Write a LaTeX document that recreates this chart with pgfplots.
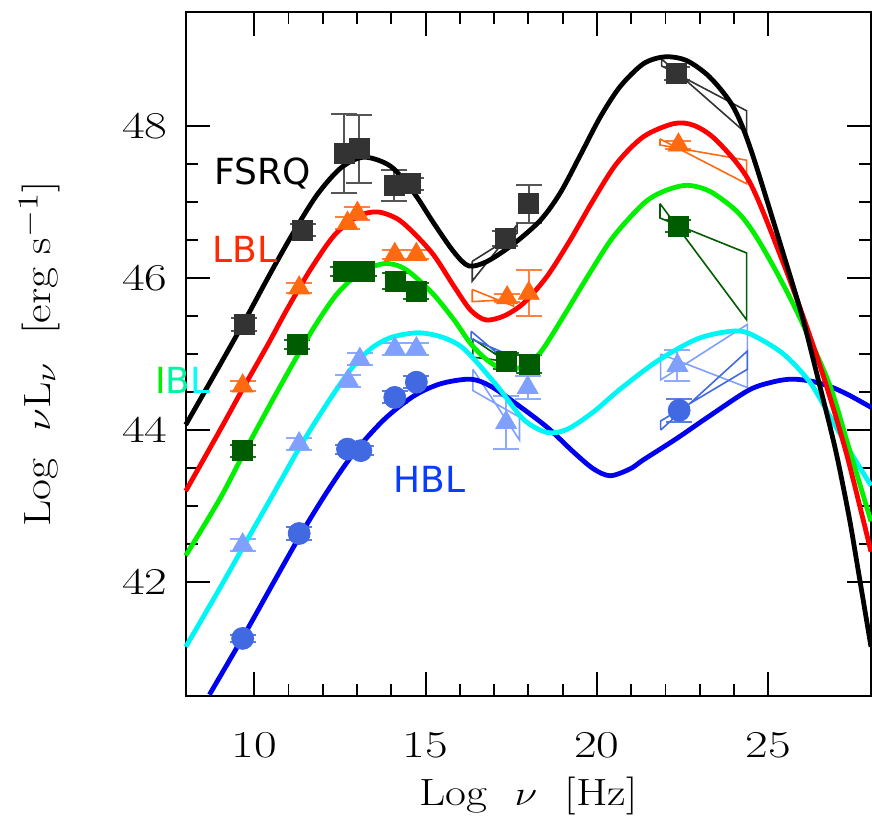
\documentclass[border=0pt]{standalone}
\usepackage{graphicx}
\usepackage{pgfplots}
\pgfplotsset{compat=1.18}
\usepackage{fontspec}
\newfontfamily\dejavu{DejaVu Sans}
\definecolor{cblack}{HTML}{000000}
\definecolor{cred}{HTML}{FF0000}
\definecolor{cgreen}{HTML}{00F000}
\definecolor{ccyan}{HTML}{00F5F5}
\definecolor{cblue}{HTML}{0000F0}
\definecolor{pblack}{HTML}{333333}
\definecolor{eblack}{HTML}{555555}
\definecolor{porange}{HTML}{FF6A10}
\definecolor{eorange}{HTML}{FF8040}
\definecolor{pgreen}{HTML}{005C00}
\definecolor{egreen}{HTML}{1E6E1E}
\definecolor{plblue}{HTML}{7FA0FF}
\definecolor{elblue}{HTML}{8FAAFF}
\definecolor{proyal}{HTML}{4169E1}
\definecolor{eroyal}{HTML}{5A7FE6}
\definecolor{tlbl}{HTML}{FF2A00}
\definecolor{thbl}{HTML}{0A3CFF}
\definecolor{tibl1}{HTML}{00F000}
\definecolor{tibl2}{HTML}{00F5A0}
\definecolor{tibl3}{HTML}{00FFFF}
\pgfplotsset{
  errs/.style={error bars/.cd, y dir=both, y explicit,
    error bar style={line width=1pt, color=#1},
    error mark options={line width=1pt, mark size=6.5pt, color=#1, rotate=90}},
}
\begin{document}
\begin{tikzpicture}
\begin{axis}[
  scale only axis, width=343pt, height=342.5pt,
  xmin=8, xmax=28, ymin=40.5, ymax=49.5,
  clip=false,
  axis line style={line width=1.2pt},
  xtick={10,15,20,25}, ytick={42,44,46,48},
  minor x tick num=4, minor y tick num=3,
  tick align=inside,
  major tick length=12pt, minor tick length=6pt,
  every tick/.style={black, line width=0.9pt},
  /pgf/number format/assume math mode=true,
  tick label style={font=\fontsize{19}{19}\selectfont, inner sep=0pt},
  xticklabel={\scalebox{1.3}[1]{\pgfmathprintnumber{\tick}}},
  yticklabel={\scalebox{1.3}[1]{\pgfmathprintnumber{\tick}}},
  xticklabel style={yshift=-18pt},
  yticklabel style={xshift=-9pt},
  xlabel={\scalebox{1.2}[1]{Log\ \ $\nu$\ \ [Hz]}},
  ylabel={\scalebox{1.2}[1]{Log\ \ $\nu$L$_\nu$\ \ [erg\ s$^{-1}$]}},
  label style={font=\fontsize{19}{19}\selectfont, inner sep=0pt},
  xlabel style={at={([yshift=-40.5pt]axis description cs:0.5,0)}, anchor=north},
  ylabel style={at={([xshift=-63pt]axis description cs:0,0.5)}, anchor=south},
]
% ---------- data points ----------
\addplot[only marks, mark=square*, mark size=5pt, color=pblack, errs=eblack] coordinates {
 (9.71,45.39) +- (0,0.08)
 (11.41,46.63) +- (0,0.08)
 (12.62,47.64) +- (0,0.52)
 (13.06,47.70) +- (0,0.45)
 (14.08,47.22) +- (0,0.20)
 (14.56,47.24) +- (0,0.08)
 (17.33,46.52) +- (0,0.10)
 (18.01,46.98) +- (0,0.25)
 (22.33,48.69) +- (0,0.08)
};
\addplot[only marks, mark=triangle*, mark size=6pt, color=porange, errs=eorange] coordinates {
 (9.66,44.58) +- (0,0.06)
 (11.31,45.87) +- (0,0.06)
 (12.72,46.72) +- (0,0.08)
 (13.01,46.85) +- (0,0.08)
 (14.10,46.31) +- (0,0.06)
 (14.73,46.31) +- (0,0.06)
 (17.38,45.74) +- (0,0.05)
 (18.01,45.80) +- (0,0.30)
 (22.38,47.75) +- (0,0.05)
};
\addplot[only marks, mark=square*, mark size=5pt, color=pgreen, errs=egreen] coordinates {
 (9.66,43.73) +- (0,0.08)
 (11.26,45.13) +- (0,0.06)
 (12.60,46.09) +- (0,0.06)
 (13.20,46.09) +- (0,0.06)
 (14.12,45.96) +- (0,0.10)
 (14.73,45.83) +- (0,0.10)
 (17.35,44.91) +- (0,0.10)
 (18.03,44.87) +- (0,0.12)
 (22.38,46.68) +- (0,0.08)
};
\addplot[only marks, mark=triangle*, mark size=6pt, color=plblue, errs=elblue] coordinates {
 (9.66,42.49) +- (0,0.08)
 (11.31,43.82) +- (0,0.08)
 (12.74,44.65) +- (0,0.08)
 (13.08,44.93) +- (0,0.08)
 (14.10,45.07) +- (0,0.08)
 (14.73,45.07) +- (0,0.08)
 (17.35,44.10) +- (0,0.35)
 (17.98,44.56) +- (0,0.15)
 (22.35,44.85) +- (0,0.20)
};
\addplot[only marks, mark=*, mark size=5.5pt, color=proyal, errs=eroyal] coordinates {
 (9.66,41.26) +- (0,0.05)
 (11.31,42.64) +- (0,0.08)
 (12.72,43.75) +- (0,0.06)
 (13.11,43.73) +- (0,0.06)
 (14.10,44.43) +- (0,0.08)
 (14.73,44.63) +- (0,0.08)
 (22.40,44.26) +- (0,0.15)
};
% ---------- bow-ties ----------
\addplot[line width=0.8pt, color=pblack] coordinates {(16.36,46.22) (17.67,46.59) (17.67,46.70) (16.36,45.96) (16.36,46.22)};
\addplot[line width=0.8pt, color=porange] coordinates {(16.36,45.85) (17.57,45.63) (17.57,45.72) (16.36,45.69) (16.36,45.85)};
\addplot[line width=0.8pt, color=pgreen] coordinates {(16.38,45.20) (17.59,44.83) (17.59,44.89) (16.38,44.96) (16.38,45.20)};
\addplot[line width=0.8pt, color=proyal] coordinates {(16.33,45.30) (17.64,44.80) (17.64,44.95) (16.33,45.20) (16.33,45.30)};
\addplot[line width=0.8pt, color=plblue] coordinates {(16.38,44.80) (17.74,43.87) (17.74,44.17) (16.38,44.52) (16.38,44.80)};
\addplot[line width=0.8pt, color=pblack] coordinates {(21.89,48.88) (24.37,47.90) (24.37,48.20) (21.89,48.79) (21.89,48.88)};
\addplot[line width=0.8pt, color=porange] coordinates {(21.84,47.83) (24.37,47.24) (24.37,47.55) (21.84,47.75) (21.84,47.83)};
\addplot[line width=0.8pt, color=pgreen] coordinates {(21.84,46.98) (24.37,45.45) (24.37,46.33) (21.84,46.79) (21.84,46.98)};
\addplot[line width=0.8pt, color=plblue] coordinates {(21.86,45.00) (24.39,44.56) (24.39,45.39) (21.86,44.66) (21.86,45.00)};
\addplot[line width=0.8pt, color=proyal] coordinates {(21.86,44.00) (24.39,45.04) (24.39,44.80) (21.86,44.12) (21.86,44.00)};
% ---------- model curves ----------
\addplot[line width=2.4pt, color=cblue, smooth] coordinates {
 (8.69,40.52) (9.71,41.31) (10.58,42.01) (11.36,42.63) (12.14,43.20) (12.91,43.70)
 (13.79,44.14) (14.66,44.45) (15.44,44.61) (16.31,44.67) (16.89,44.58) (17.57,44.37)
 (18.54,44.04) (19.32,43.71) (19.90,43.49) (20.39,43.40) (20.97,43.49) (21.36,43.61)
 (22.33,43.89) (23.30,44.19) (24.45,44.53) (25.20,44.64) (25.71,44.67) (26.30,44.64)
 (26.88,44.56) (27.40,44.45) (28.00,44.30)
};
\addplot[line width=2.4pt, color=ccyan, smooth] coordinates {
 (8.00,41.15) (8.93,41.87) (9.71,42.49) (10.58,43.18) (11.36,43.80) (12.14,44.36)
 (12.82,44.80) (13.40,45.07) (14.00,45.22) (14.78,45.28) (15.50,45.22) (16.14,45.06)
 (17.09,44.58) (17.86,44.14) (18.54,43.97) (19.13,44.01) (19.90,44.24) (20.68,44.54)
 (21.77,44.91) (22.93,45.20) (23.90,45.30) (24.45,45.27) (25.42,45.01) (26.20,44.64)
 (26.78,44.20) (27.36,43.74) (27.85,43.38) (28.00,43.27)
};
\addplot[line width=2.4pt, color=cgreen, smooth] coordinates {
 (8.00,42.35) (9.00,43.10) (9.71,43.71) (10.49,44.36) (11.31,45.02) (11.84,45.42)
 (12.43,45.80) (13.11,46.08) (13.79,46.19) (14.27,46.15) (14.66,46.03) (15.24,45.78)
 (15.83,45.45) (16.31,45.14) (16.80,44.92) (17.28,44.80) (17.86,44.84) (18.35,45.02)
 (19.03,45.50) (19.81,46.08) (20.49,46.55) (21.36,46.98) (21.94,47.14) (22.62,47.22)
 (23.30,47.14) (24.08,46.88) (24.60,46.58) (25.23,46.09) (25.90,45.50) (26.78,44.61)
 (27.36,43.76) (27.80,43.10) (28.00,42.80)
};
\addplot[line width=2.4pt, color=cred, smooth] coordinates {
 (8.00,43.20) (9.00,44.00) (9.66,44.54) (10.39,45.12) (10.97,45.60) (11.65,46.12)
 (12.33,46.56) (13.01,46.81) (13.59,46.87) (14.17,46.78) (14.66,46.59) (15.24,46.30)
 (15.83,45.89) (16.31,45.58) (16.75,45.45) (17.28,45.50) (17.86,45.67) (18.54,46.02)
 (19.22,46.50) (19.90,47.03) (20.58,47.51) (21.36,47.86) (22.23,48.03) (22.82,48.01)
 (23.49,47.81) (24.45,47.27) (25.42,46.22) (26.10,45.39) (26.68,44.61) (27.26,43.73)
 (27.75,42.86) (28.00,42.40)
};
\addplot[line width=2.4pt, color=cblack, smooth] coordinates {
 (8.00,44.07) (9.00,44.86) (9.71,45.43) (10.49,46.08) (11.17,46.62) (11.84,47.10)
 (12.53,47.45) (13.20,47.59) (13.98,47.47) (14.66,47.12) (15.24,46.72) (15.83,46.34)
 (16.26,46.16) (16.80,46.22) (17.57,46.45) (18.35,46.76) (18.93,47.12) (19.52,47.62)
 (20.10,48.12) (20.68,48.52) (21.36,48.82) (21.99,48.91) (22.62,48.86) (23.30,48.64)
 (23.98,48.25) (24.50,47.68) (25.42,46.35) (26.00,45.48) (26.49,44.61) (26.97,43.73)
 (27.36,42.86) (27.61,42.20) (28.00,41.15)
};
% ---------- class labels ----------
\node[anchor=base west, inner sep=0pt, font=\dejavu\fontsize{18}{18}\selectfont, text=black] at (axis cs:8.83,47.23) {FSRQ};
\node[anchor=base west, inner sep=0pt, font=\dejavu\fontsize{18}{18}\selectfont, text=tlbl] at (axis cs:8.78,46.20) {LBL};
\node[anchor=base west, inner sep=0pt, font=\dejavu\fontsize{18}{18}\selectfont] at (axis cs:7.09,44.48) {\textcolor{tibl1}{I}\textcolor{tibl2}{B}\textcolor{tibl3}{L}};
\node[anchor=base west, inner sep=0pt, font=\dejavu\fontsize{18}{18}\selectfont, text=thbl] at (axis cs:14.05,43.18) {HBL};
\end{axis}
\pgfresetboundingbox
\path[use as bounding box] (-93pt,-62.5pt) rectangle (343.5pt,348.5pt);
\end{tikzpicture}
\end{document}
